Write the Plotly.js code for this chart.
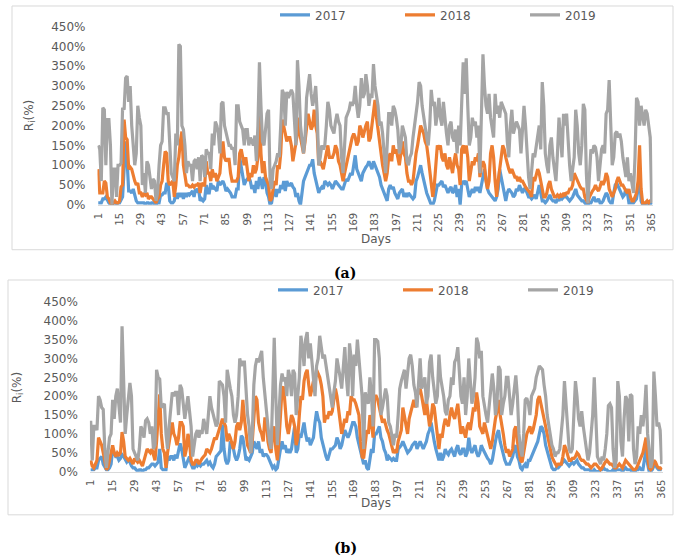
<!DOCTYPE html>
<html>
<head>
<meta charset="utf-8">
<script src="https://cdn.plot.ly/plotly-3.0.1.min.js"></script>
<style>
html,body{margin:0;padding:0;background:#fff;}
#chart{width:685px;height:559px;}
</style>
</head>
<body>
<div id="chart"></div>
<script>
// ---------- DATA ----------
const seriesNames = ['2017', '2018', '2019'];
const tickDays = [1,15,29,43,57,71,85,99,113,127,141,155,169,183,197,211,225,239,253,267,281,295,309,323,337,351,365];
const yTickVals = [0,50,100,150,200,250,300,350,400,450];

// Panel (a)
const a2017 = [
5,5,5,15,15,20,10,5,0,0,5,5,0,5,
5,15,20,90,160,110,35,35,30,40,20,10,5,5,
5,5,5,0,5,5,0,5,5,0,0,5,5,25,
25,30,30,55,50,10,5,5,10,30,15,30,20,30,
15,30,20,30,25,30,35,20,40,35,40,10,15,10,
15,50,30,30,55,40,45,40,35,60,50,55,60,50,
35,40,35,30,20,20,20,40,40,120,100,75,50,60,
65,70,60,40,50,30,60,40,70,60,40,70,60,30,
20,0,5,30,40,20,40,30,50,40,60,35,60,50,
50,55,45,40,20,30,10,0,30,60,70,80,90,100,
100,115,80,60,50,30,40,45,40,60,55,50,55,50,
40,50,60,55,50,45,40,40,55,65,60,70,80,75,
100,125,90,80,70,60,80,90,95,100,110,100,90,110,
100,90,80,70,50,40,30,20,10,40,50,40,45,30,
20,15,30,35,40,20,30,20,30,25,20,15,20,60,
70,90,100,80,60,40,30,20,10,0,0,10,30,50,
50,55,60,45,50,40,30,40,45,30,35,50,20,40,
0,50,60,55,60,40,20,30,40,30,45,35,45,30,
55,70,90,60,40,30,25,20,15,10,20,40,90,70,
60,40,10,30,40,35,30,20,25,40,35,50,40,30,
40,40,30,20,20,15,20,25,15,30,50,30,10,10,
5,10,20,25,15,10,10,5,15,10,20,15,20,20,
20,15,10,15,20,30,40,25,20,15,10,10,5,0,
0,5,5,15,20,10,10,15,5,5,10,20,30,25,
10,5,5,30,50,55,45,40,30,20,25,40,30,5,
5,5,5,10,15,40,80,10,0,0,5,0,0,5,
0];
const a2018 = [
90,30,30,30,60,55,20,15,5,0,5,10,5,5,
10,45,50,215,170,165,90,95,90,70,60,50,55,30,
30,20,30,25,30,15,20,20,15,10,5,15,20,50,
60,100,135,130,60,50,55,60,20,50,100,120,160,185,
100,80,50,50,45,45,50,45,50,50,55,30,55,50,
50,110,80,80,60,90,70,80,60,70,80,130,160,120,
110,115,115,80,60,60,60,60,70,130,140,120,100,120,
90,60,80,70,100,80,90,120,245,130,80,110,70,60,
50,10,15,40,60,50,100,90,130,215,200,180,160,170,
170,150,110,130,150,180,220,170,150,130,160,200,230,210,
190,200,240,200,180,100,110,100,90,110,130,150,120,120,
120,130,150,140,110,100,80,60,80,100,120,130,150,170,
180,170,150,160,200,190,170,190,200,210,160,170,200,230,
265,220,190,150,130,100,80,60,80,120,130,110,150,130,
140,120,100,130,160,130,120,80,60,60,50,60,100,130,
150,180,200,190,180,160,150,120,90,60,20,50,100,150,
140,150,120,110,130,100,90,120,100,80,110,130,100,90,
50,140,150,130,150,120,60,80,110,100,120,110,130,70,
100,110,100,60,40,60,130,150,120,60,20,60,100,120,
150,140,120,100,90,80,90,80,70,70,60,70,60,60,
50,45,40,35,30,20,70,60,80,90,80,60,40,20,
20,30,50,60,40,30,20,20,25,20,25,20,30,25,
30,30,40,40,50,80,70,60,50,45,40,40,20,10,
5,20,30,35,40,50,40,35,45,60,50,60,80,70,
40,30,20,30,40,60,70,60,50,50,40,35,30,40,
20,10,10,20,30,60,150,40,5,5,5,10,5,10,
10];
const a2019 = [
150,140,60,245,240,100,215,215,150,0,90,90,20,100,
100,105,245,240,320,325,260,300,200,150,100,130,250,220,
200,50,80,30,110,100,60,40,65,60,10,30,100,150,
160,245,245,230,230,130,80,70,60,180,150,405,400,200,
190,150,80,110,100,100,60,110,115,90,120,60,125,120,
70,140,130,130,90,180,150,210,200,180,130,255,260,200,
180,170,150,150,140,145,100,250,250,210,200,190,150,190,
190,150,170,160,150,175,110,200,360,250,160,150,200,230,
240,60,40,90,100,110,130,120,200,290,280,200,285,270,
280,290,280,200,150,365,300,200,160,130,170,270,300,330,
280,250,270,300,230,100,120,150,140,150,200,260,240,200,
190,180,210,230,210,200,120,80,150,220,230,240,260,250,
260,300,250,220,250,320,270,280,330,300,250,280,270,355,
300,280,250,200,210,180,120,80,150,230,230,200,250,240,
220,190,130,150,200,180,170,110,100,120,130,170,200,240,
260,310,300,250,220,200,170,150,200,290,250,260,200,230,
270,220,200,260,210,180,150,200,210,170,160,190,130,200,
150,250,360,280,370,250,150,170,220,200,210,170,200,80,
200,380,300,250,230,280,220,200,170,280,230,250,220,260,
250,240,230,160,120,200,240,180,200,210,200,190,130,200,
250,200,130,70,40,80,130,120,150,170,200,140,310,250,
130,100,80,150,170,120,90,60,130,220,170,120,230,200,
230,150,100,60,100,120,240,200,130,100,150,255,240,80,
5,60,140,130,150,145,120,60,100,140,150,130,230,240,
315,200,100,120,180,185,170,180,160,120,90,70,120,60,
80,50,30,120,270,260,200,250,230,200,240,230,200,170,
5];

// Panel (b)
const b2017 = [
5,5,5,10,10,30,35,40,20,10,5,5,10,20,
60,50,40,40,30,35,45,40,30,25,30,25,15,10,
10,5,0,5,5,0,5,5,10,10,15,20,20,15,
20,25,60,10,5,5,5,40,30,40,40,30,45,35,
60,75,60,40,10,20,30,40,20,10,10,20,15,20,
15,20,20,25,30,20,25,15,10,20,40,45,50,55,
125,60,30,20,30,80,70,60,40,30,40,60,95,90,
60,30,35,30,40,50,80,70,60,80,50,60,40,45,
45,40,30,20,10,15,5,10,40,60,80,60,70,50,
60,50,60,100,120,50,60,100,90,110,130,100,80,90,
70,80,90,130,160,140,130,90,70,50,40,30,50,60,
60,65,70,90,80,60,70,90,110,100,90,100,120,130,
130,120,90,70,50,40,20,30,10,5,40,60,50,100,
100,110,120,90,80,60,50,30,40,35,30,35,30,30,
60,65,70,80,70,60,50,55,60,70,75,80,60,70,
80,70,60,70,80,100,110,130,100,80,60,40,30,50,
30,40,60,50,45,55,60,50,40,60,70,50,45,60,
60,40,50,90,60,50,60,70,50,40,50,70,60,50,
40,35,30,20,30,60,80,100,110,80,60,40,30,20,
20,20,30,40,60,70,40,30,10,5,15,20,10,30,
30,40,50,60,70,80,100,120,115,100,70,50,40,25,
10,5,5,10,10,15,20,25,30,25,20,15,20,25,
20,25,30,20,15,10,10,5,5,5,5,0,0,5,
0,0,0,5,5,10,5,5,0,0,0,5,0,5,
5,5,5,0,5,10,5,5,5,0,0,0,5,5,
10,5,5,30,60,20,0,0,5,15,20,10,5,5,
5];
const b2018 = [
30,15,10,20,30,90,80,70,50,30,5,10,30,50,
70,50,40,50,45,50,105,80,40,35,30,35,25,20,
35,30,25,30,20,15,30,50,60,55,50,60,40,30,
80,140,205,100,60,50,10,50,80,110,130,100,90,70,
90,130,130,120,40,60,100,80,30,20,20,30,30,20,
30,35,40,45,60,55,50,60,80,90,85,100,110,130,
140,130,120,80,100,90,70,60,80,120,130,110,130,190,
140,100,70,60,50,80,160,200,190,130,110,100,80,140,
140,80,60,50,100,120,60,30,80,150,220,225,180,120,
100,120,150,140,120,70,90,150,200,190,240,260,270,230,
200,220,240,230,270,260,250,230,200,130,150,140,160,150,
160,190,220,200,170,130,100,120,140,130,160,150,200,190,
190,180,160,150,80,40,35,80,110,100,150,130,90,200,
200,190,170,150,130,140,120,110,100,80,60,50,55,50,
80,100,110,170,150,120,100,140,160,180,190,170,200,210,
220,200,170,150,190,160,120,140,180,170,130,90,60,100,
90,120,140,130,120,150,170,150,140,160,180,140,100,120,
100,90,120,130,110,150,170,160,210,180,120,110,100,130,
110,90,80,60,80,120,140,160,190,150,130,100,70,50,
60,40,50,60,110,120,80,60,30,25,50,80,100,110,
120,100,110,130,150,190,200,180,160,130,110,100,80,60,
40,30,20,15,20,20,20,40,70,60,40,30,30,35,
35,40,50,45,35,30,30,25,20,20,15,10,15,20,
20,15,10,5,10,20,25,30,25,20,20,15,10,10,
15,20,15,10,20,30,25,20,15,10,5,5,10,20,
30,40,50,70,90,40,10,5,10,30,25,15,10,10,
5];
const b2019 = [
135,30,120,120,110,200,190,170,165,60,10,50,90,100,
190,140,200,220,180,130,385,200,100,150,200,235,200,60,
50,40,30,60,120,110,90,135,140,130,100,120,60,70,
270,250,245,170,175,180,100,60,120,180,210,200,210,210,
150,230,220,180,140,170,200,160,120,40,80,100,110,90,
110,100,140,120,100,150,200,170,150,140,120,130,240,235,
230,200,130,270,240,220,200,150,130,150,200,300,280,290,
290,200,150,120,50,100,230,280,300,290,310,320,250,200,
170,120,80,60,200,355,200,70,150,230,260,240,250,200,
270,250,200,270,260,150,200,250,360,330,280,350,370,300,
340,300,250,200,280,300,360,330,300,310,280,250,220,200,
170,210,240,300,280,250,220,280,330,250,200,340,300,200,
310,280,350,300,250,200,60,210,190,180,250,200,120,350,
350,345,300,150,170,200,220,200,130,120,90,70,100,90,
150,220,240,260,270,220,260,300,310,280,230,210,170,230,
300,220,240,250,180,200,290,310,250,220,180,200,310,250,
230,200,160,150,190,200,250,230,290,300,330,260,200,180,
250,150,200,300,220,180,200,250,355,340,300,320,200,170,
150,130,170,200,260,220,150,180,280,270,150,180,200,250,
250,200,150,180,220,255,200,100,60,40,100,190,195,180,
150,200,210,220,250,270,280,275,270,230,200,150,120,100,
70,60,40,50,50,60,100,150,240,170,100,60,50,60,
150,240,200,140,120,160,120,80,60,30,50,100,150,250,
120,40,30,20,40,30,60,100,175,180,170,60,10,30,
240,200,80,40,140,200,190,80,205,200,60,20,40,120,
100,150,120,160,230,100,60,10,30,265,200,120,130,110,
20];

// ---------- BUILD ----------
const days = a2017.map((_, i) => i + 1);
const colors = ['#5B9BD5', '#ED7D31', '#A5A5A5'];
const W = 685, H = 559;
const px = v => v / W;
const py = v => 1 - v / H;

function mk(y, k, xa, ya, leg) {
  return {
    type: 'scatter', mode: 'lines', x: days, y: y,
    name: seriesNames[k], xaxis: xa, yaxis: ya, legend: leg,
    line: {color: colors[k], width: 3.2, shape: 'linear'},
    hoverinfo: 'skip'
  };
}
const traces = [
  mk(a2017, 0, 'x', 'y', 'legend'),
  mk(a2018, 1, 'x', 'y', 'legend'),
  mk(a2019, 2, 'x', 'y', 'legend'),
  mk(b2017, 0, 'x2', 'y2', 'legend2'),
  mk(b2018, 1, 'x2', 'y2', 'legend2'),
  mk(b2019, 2, 'x2', 'y2', 'legend2')
];

const gray = '#595959';
const fontFam = 'DejaVu Sans, Verdana, sans-serif';
function xax(d0, d1, anchor) {
  return {
    domain: [px(d0), px(d1)], anchor: anchor, range: [0.5, 365.5],
    tickmode: 'array', tickvals: tickDays, ticktext: tickDays.map(String),
    tickangle: -90, tickfont: {size: 10, color: gray, family: fontFam},
    ticks: '', ticklabelstandoff: 3,
    showline: true, linecolor: '#d9d9d9', linewidth: 1,
    showgrid: false, zeroline: false, fixedrange: true
  };
}
function yax(top, bot, anchor) {
  return {
    domain: [py(bot), py(top)], anchor: anchor, range: [0, 450],
    tickmode: 'array', tickvals: yTickVals, ticktext: yTickVals.map(v => v + '%'),
    tickfont: {size: 12, color: gray, family: fontFam},
    ticks: '', ticklabelstandoff: 11,
    showline: false, showgrid: false, zeroline: false, fixedrange: true
  };
}
function legendAt(x, y) {
  return {
    orientation: 'h', x: px(x), y: py(y), xanchor: 'left', yanchor: 'middle',
    entrywidth: 80, entrywidthmode: 'pixels',
    font: {size: 12, color: gray, family: fontFam},
    bgcolor: 'rgba(0,0,0,0)', borderwidth: 0
  };
}

const layout = {
  width: W, height: H,
  margin: {l: 0, r: 0, t: 0, b: 0},
  paper_bgcolor: '#ffffff', plot_bgcolor: '#ffffff',
  font: {family: fontFam, color: gray},
  showlegend: true,
  xaxis: xax(97.5, 652.5, 'y'),
  yaxis: yax(22.7, 202.3, 'x'),
  xaxis2: xax(89.9, 662.5, 'y2'),
  yaxis2: yax(300, 471, 'x2'),
  legend: legendAt(275, 11),
  legend2: legendAt(273, 288),
  shapes: [
    {type: 'rect', xref: 'paper', yref: 'paper', x0: px(12), x1: px(673), y0: py(247.5), y1: py(2),
     line: {color: '#d9d9d9', width: 1}, fillcolor: 'rgba(0,0,0,0)', layer: 'below'},
    {type: 'rect', xref: 'paper', yref: 'paper', x0: px(8), x1: px(673), y0: py(514.5), y1: py(278),
     line: {color: '#d9d9d9', width: 1}, fillcolor: 'rgba(0,0,0,0)', layer: 'below'}
  ],
  annotations: [
    {text: 'Days', xref: 'paper', yref: 'paper', x: px(375.5), y: py(237), xanchor: 'center', yanchor: 'middle',
     showarrow: false, font: {size: 12, color: gray, family: fontFam}},
    {text: 'Days', xref: 'paper', yref: 'paper', x: px(376), y: py(503), xanchor: 'center', yanchor: 'middle',
     showarrow: false, font: {size: 12, color: gray, family: fontFam}},
    {text: 'R<sub>i</sub>(%)', xref: 'paper', yref: 'paper', x: px(30), y: py(113), xanchor: 'center', yanchor: 'middle',
     textangle: -90, showarrow: false, font: {size: 12, color: gray, family: fontFam}},
    {text: 'R<sub>i</sub>(%)', xref: 'paper', yref: 'paper', x: px(18), y: py(387), xanchor: 'center', yanchor: 'middle',
     textangle: -90, showarrow: false, font: {size: 12, color: gray, family: fontFam}},
    {text: '<b>(a)</b>', xref: 'paper', yref: 'paper', x: px(345), y: py(271), xanchor: 'center', yanchor: 'middle',
     showarrow: false, font: {size: 14, color: '#000000', family: 'DejaVu Serif, serif'}},
    {text: '<b>(b)</b>', xref: 'paper', yref: 'paper', x: px(345), y: py(548), xanchor: 'center', yanchor: 'middle',
     showarrow: false, font: {size: 14, color: '#000000', family: 'DejaVu Serif, serif'}}
  ]
};

Plotly.newPlot('chart', traces, layout, {staticPlot: true, displayModeBar: false});
</script>
</body>
</html>
